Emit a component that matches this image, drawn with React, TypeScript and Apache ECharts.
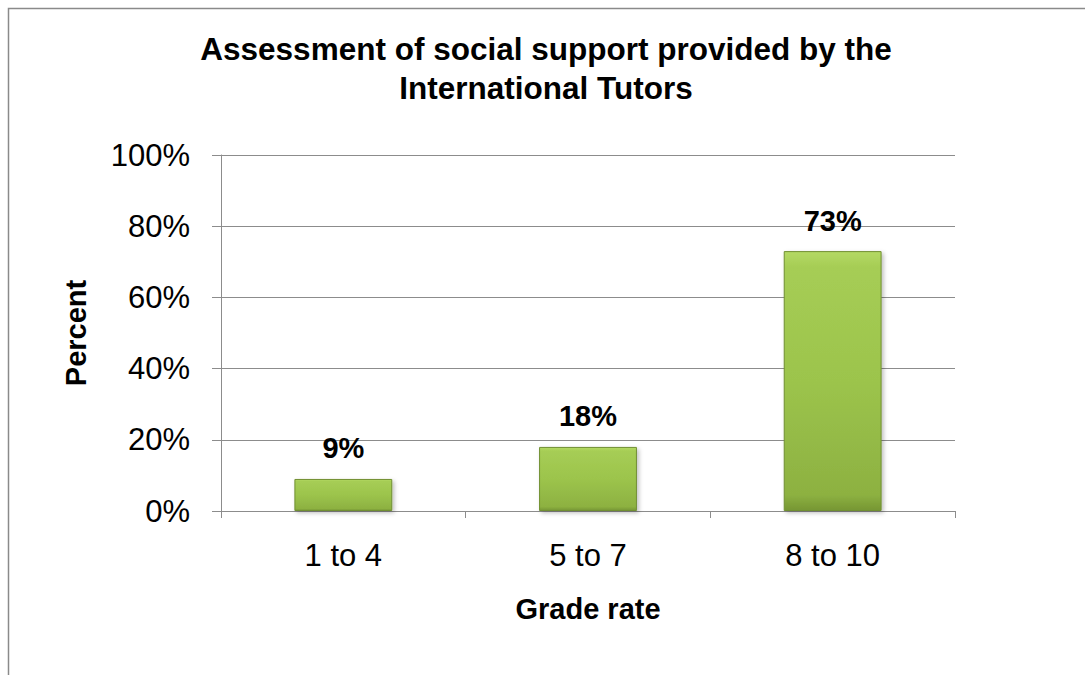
import React, { useEffect, useRef } from "react";
import * as echarts from "echarts";

const titleText = "Assessment of social support provided by the\nInternational Tutors";
const categories = ["1 to 4", "5 to 7", "8 to 10"];
const values = [9, 18, 73];
const yTicks = [0, 20, 40, 60, 80, 100];
const xAxisName = "Grade rate";
const yAxisName = "Percent";

const FONT = "'Liberation Sans', Arial, sans-serif";

export default function App() {
  const ref = useRef<HTMLDivElement>(null);
  useEffect(() => {
    if (!ref.current) return;
    const chart = echarts.init(ref.current, undefined, { renderer: "svg" });
    chart.setOption({
      animation: false,
      backgroundColor: "#ffffff",
      title: {
        text: titleText,
        left: 541,
        textAlign: "center",
        top: 24,
        textStyle: {
          fontFamily: FONT,
          fontSize: 31.5,
          fontWeight: "bold",
          color: "#000",
          lineHeight: 39,
        },
      },
      graphic: [
        {
          type: "rect",
          shape: { x: 8.5, y: 8.5, width: 1200, height: 800 },
          style: { fill: "none", stroke: "#8a8a8a", lineWidth: 1.5 },
          silent: true,
        },
      ],
      grid: { left: 221, right: 130, top: 155, bottom: 164 },
      xAxis: {
        type: "category",
        data: categories,
        name: xAxisName,
        nameLocation: "middle",
        nameGap: 83,
        nameTextStyle: { fontFamily: FONT, fontSize: 29, fontWeight: "bold", color: "#000" },
        axisLine: { show: true, lineStyle: { color: "#8c8c8c", width: 1 } },
        axisTick: { show: true, interval: 0, length: 7, lineStyle: { color: "#8c8c8c" } },
        axisLabel: { fontFamily: FONT, fontSize: 31, color: "#000", margin: 29 },
      },
      yAxis: {
        type: "value",
        min: 0,
        max: 100,
        interval: 20,
        name: yAxisName,
        nameLocation: "middle",
        nameGap: 131,
        nameTextStyle: { fontFamily: FONT, fontSize: 29, fontWeight: "bold", color: "#000" },
        axisLine: { show: true, lineStyle: { color: "#8c8c8c", width: 1 } },
        axisTick: { show: true, length: 9, lineStyle: { color: "#8c8c8c" } },
        splitLine: { show: true, lineStyle: { color: "#8c8c8c", width: 1 } },
        axisLabel: {
          fontFamily: FONT,
          fontSize: 31,
          color: "#000",
          margin: 31,
          formatter: (v: number) => (yTicks.includes(v) ? v + "%" : ""),
        },
      },
      series: [
        {
          type: "bar",
          data: values,
          barWidth: "40%",
          itemStyle: {
            color: new echarts.graphic.LinearGradient(0, 0, 0, 1, [
              { offset: 0, color: "#b4d964" },
              { offset: 0.06, color: "#a6cd55" },
              { offset: 0.5, color: "#9cc44c" },
              { offset: 0.94, color: "#8db141" },
              { offset: 1, color: "#769633" },
            ]),
            borderColor: "#718f32",
            borderWidth: 1,
            shadowColor: "rgba(0,0,0,0.25)",
            shadowBlur: 4,
            shadowOffsetX: 2,
            shadowOffsetY: 2,
          },
          label: {
            show: true,
            position: "top",
            distance: 16,
            formatter: "{c}%",
            fontFamily: FONT,
            fontSize: 29,
            fontWeight: "bold",
            color: "#000",
          },
        },
      ],
    });
    return () => chart.dispose();
  }, []);
  return (
    <div
      ref={ref}
      style={{ position: "fixed", left: 0, top: 0, width: 1085, height: 675 }}
    />
  );
}
